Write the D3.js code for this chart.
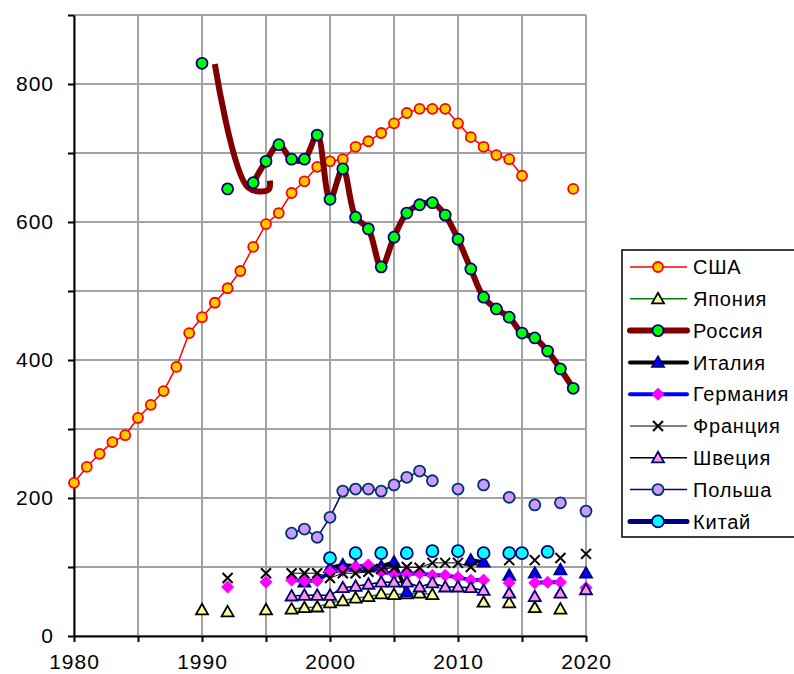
<!DOCTYPE html>
<html>
<head>
<meta charset="utf-8">
<script src="https://cdnjs.cloudflare.com/ajax/libs/d3/7.8.5/d3.min.js"></script>
<style>
body { margin: 0; background: #fff; }
text { font-family: 'Liberation Sans', Arial, sans-serif; }
</style>
</head>
<body>
<div id="chart"></div>
<script>
// data
var usaYears = [1980, 1981, 1982, 1983, 1984, 1985, 1986, 1987, 1988, 1989, 1990, 1991, 1992, 1993, 1994, 1995, 1996, 1997, 1998, 1999,
    2000, 2001, 2002, 2003, 2004, 2005, 2006, 2007, 2008, 2009, 2010, 2011, 2012, 2013, 2014, 2015, 2019];
var usaValues = [222, 245, 264, 281, 291, 316, 335, 355, 390, 439, 462, 483, 504, 529, 564, 597, 613, 642, 659, 680,
    688, 691, 709, 717, 729, 743, 758, 764, 764, 764, 743, 723, 709, 697, 691, 667, 648];

var japanYears = [1990, 1992, 1995, 1997, 1998, 1999, 2000, 2001, 2002, 2003, 2004, 2005, 2006, 2007, 2008, 2012, 2014, 2016, 2018];
var japanValues = [38, 35, 38, 39, 41, 42, 48, 51, 55, 57, 61, 60, 61, 62, 60, 49, 48, 41, 39];

var russiaYears = [1990, 1992, 1994, 1995, 1996, 1997, 1998, 1999, 2000, 2001, 2002, 2003, 2004, 2005, 2006, 2007, 2008, 2009,
    2010, 2011, 2012, 2013, 2014, 2015, 2016, 2017, 2018, 2019];
var russiaValues = [830, 648, 657, 688, 712, 691, 691, 726, 633, 677, 607, 590, 535, 578, 613, 625, 628, 610,
    575, 532, 491, 474, 462, 439, 432, 413, 387, 359];
// early smoothed piece without markers
var russiaEarlyYears = [1991, 1993.6, 1995.2, 1995.3];
var russiaEarlyValues = [829, 650, 647, 660];

var italyYears = [1998, 2000, 2001, 2002, 2003, 2004, 2005, 2006, 2011, 2012, 2014, 2016, 2018, 2020];
var italyValues = [78, 99, 103, 101, 100, 101, 107, 64, 110, 107, 88, 91, 96, 91];

var germanyYears = [1992, 1995, 1997, 1998, 1999, 2000, 2001, 2002, 2003, 2004, 2005, 2006, 2007, 2008, 2009, 2010, 2011, 2012,
    2014, 2016, 2017, 2018, 2020];
var germanyValues = [71, 78, 81, 80, 80, 93, 95, 100, 103, 93, 90, 90, 91, 88, 88, 85, 81, 81,
    77, 77, 78, 78, 70];

var franceYears = [1992, 1995, 1997, 1998, 1999, 2000, 2001, 2002, 2003, 2004, 2005, 2006, 2007, 2008, 2009, 2010, 2011,
    2014, 2016, 2018, 2020];
var franceValues = [84, 91, 91, 91, 91, 84, 91, 91, 93, 97, 99, 100, 99, 106, 106, 106, 100,
    110, 110, 113, 119];

var swedenYears = [1997, 1998, 1999, 2000, 2001, 2002, 2003, 2004, 2005, 2006, 2007, 2008, 2009, 2010, 2011, 2012,
    2014, 2016, 2018, 2020];
var swedenValues = [58, 59, 59, 59, 70, 72, 75, 78, 78, 78, 71, 77, 71, 71, 70, 66,
    62, 57, 62, 67];

var polandYears = [1997, 1998, 1999, 2000, 2001, 2002, 2003, 2004, 2005, 2006, 2007, 2008, 2010, 2012, 2014, 2016, 2018, 2020];
var polandValues = [149, 155, 143, 172, 210, 213, 213, 210, 219, 230, 239, 225, 213, 219, 201, 190, 193, 181];

var chinaYears = [2000, 2002, 2004, 2006, 2008, 2010, 2012, 2014, 2015, 2017];
var chinaValues = [113, 120, 120, 120, 123, 123, 120, 120, 120, 122];

var xTicks = [1980, 1985, 1990, 1995, 2000, 2005, 2010, 2015, 2020];
var yTicks = [0, 100, 200, 300, 400, 500, 600, 700, 800, 900];

var margin = {
        top: 15,
        right: 208,
        bottom: 38,
        left: 74
    },
    width = 794 - margin.left - margin.right,
    height = 674 - margin.top - margin.bottom;

var series = [
    {name: 'США', years: usaYears, values: usaValues, line: '#FF0000', lw: 1.5, marker: 'circle', fill: '#FFCC00', stroke: '#FF0000', r: 5},
    {name: 'Япония', years: japanYears, values: japanValues, line: '#008000', lw: 1.5, marker: 'triangle', fill: '#FFFF99', stroke: '#000000', r: 6},
    {name: 'Россия', years: russiaYears, values: russiaValues, line: '#800000', lw: 6, marker: 'circle', fill: '#00FF00', stroke: '#000080', r: 5.5, smooth: true,
        extraYears: russiaEarlyYears, extraValues: russiaEarlyValues, skipLine: [1990, 1992]},
    {name: 'Италия', years: italyYears, values: italyValues, line: '#000000', lw: 4, marker: 'triangle', fill: '#0000FF', stroke: '#000080', r: 6},
    {name: 'Германия', years: germanyYears, values: germanyValues, line: '#0000FF', lw: 4, marker: 'diamond', fill: '#FF00FF', stroke: '#FF00FF', r: 6},
    {name: 'Франция', years: franceYears, values: franceValues, line: '#000000', lw: 1, marker: 'x', fill: 'none', stroke: '#000000', r: 5},
    {name: 'Швеция', years: swedenYears, values: swedenValues, line: '#000000', lw: 1.5, marker: 'triangle', fill: '#FF99CC', stroke: '#000080', r: 6},
    {name: 'Польша', years: polandYears, values: polandValues, line: '#000080', lw: 1.5, marker: 'circle', fill: '#CC99FF', stroke: '#003366', r: 5.5},
    {name: 'Китай', years: chinaYears, values: chinaValues, line: '#000080', lw: 5, marker: 'circle', fill: '#00FFFF', stroke: '#000080', r: 6}
];

var svg = d3.select('#chart')
    .append('svg')
    .attr('width', width + margin.left + margin.right)
    .attr('height', height + margin.top + margin.bottom);
var canvas = svg.append('g')
    .attr('transform', 'translate(' + margin.left + ',' + margin.top + ')');

var x = d3.scaleLinear().domain([1980, 2020]).range([0, width]);
var y = d3.scaleLinear().domain([0, 900]).range([height, 0]);

// grid
canvas.append('g').selectAll('line')
    .data(yTicks)
    .enter()
    .append('line')
    .attr('x1', 0)
    .attr('x2', width)
    .attr('y1', function (d) { return y(d); })
    .attr('y2', function (d) { return y(d); })
    .attr('stroke', '#a3a3a3')
    .attr('stroke-width', 2);
canvas.append('g').selectAll('line')
    .data(xTicks)
    .enter()
    .append('line')
    .attr('x1', function (d) { return x(d); })
    .attr('x2', function (d) { return x(d); })
    .attr('y1', 0)
    .attr('y2', height)
    .attr('stroke', '#a3a3a3')
    .attr('stroke-width', 2);

// axes
var yAxis = canvas.append('g')
    .call(d3.axisLeft(y).tickValues(yTicks).tickSize(6).tickSizeOuter(0).tickPadding(14)
        .tickFormat(function (d) { return d % 200 === 0 && d < 900 ? d : ''; }));
var xAxis = canvas.append('g')
    .attr('transform', 'translate(0,' + height + ')')
    .call(d3.axisBottom(x).tickValues(xTicks).tickSize(6).tickSizeOuter(0).tickPadding(12)
        .tickFormat(function (d) { return d % 10 === 0 ? d : ''; }));
[yAxis, xAxis].forEach(function (a) {
    a.selectAll('path, line').attr('stroke', '#000').attr('stroke-width', 2);
    a.selectAll('text').attr('font-size', 21).attr('fill', '#000')
        .style('letter-spacing', '1px')
        .style('font-family', "'Liberation Sans', Arial, sans-serif");
});

// split into line pieces where a year is missing
function points(yrs, vals, skip, joined) {
    var pts = [];
    yrs.forEach(function (yr, i) {
        if (skip && skip.indexOf(yr) >= 0) return;
        if (!joined && pts.length && pts[pts.length - 1] && yr - pts[pts.length - 1][0] > 1) pts.push(null);
        pts.push([yr, vals[i]]);
    });
    return pts;
}

function drawMarker(g, s, cx, cy) {
    if (s.marker === 'circle') {
        g.append('circle').attr('cx', cx).attr('cy', cy).attr('r', s.r)
            .attr('fill', s.fill).attr('stroke', s.stroke).attr('stroke-width', 1.8);
    } else if (s.marker === 'triangle') {
        var r = s.r;
        g.append('path')
            .attr('d', 'M' + cx + ',' + (cy - r) + 'L' + (cx + r) + ',' + (cy + r * 0.75) + 'L' + (cx - r) + ',' + (cy + r * 0.75) + 'Z')
            .attr('fill', s.fill).attr('stroke', s.stroke).attr('stroke-width', 1.8);
    } else if (s.marker === 'diamond') {
        var d = s.r;
        g.append('path')
            .attr('d', 'M' + cx + ',' + (cy - d) + 'L' + (cx + d) + ',' + cy + 'L' + cx + ',' + (cy + d) + 'L' + (cx - d) + ',' + cy + 'Z')
            .attr('fill', s.fill).attr('stroke', s.stroke).attr('stroke-width', 1);
    } else if (s.marker === 'x') {
        var k = s.r;
        g.append('path')
            .attr('d', 'M' + (cx - k) + ',' + (cy - k) + 'L' + (cx + k) + ',' + (cy + k) + 'M' + (cx + k) + ',' + (cy - k) + 'L' + (cx - k) + ',' + (cy + k))
            .attr('fill', 'none').attr('stroke', s.stroke).attr('stroke-width', 2);
    }
}

series.forEach(function (s) {
    var g = canvas.append('g');
    var line = d3.line()
        .defined(function (d) { return d !== null; })
        .x(function (d) { return x(d[0]); })
        .y(function (d) { return y(d[1]); })
        .curve(s.smooth ? d3.curveCatmullRom : d3.curveLinear);
    g.append('path')
        .attr('d', line(points(s.years, s.values, s.skipLine)))
        .attr('fill', 'none')
        .attr('stroke', s.line)
        .attr('stroke-width', s.lw)
        .attr('stroke-linejoin', 'round');
    if (s.extraYears) {
        g.append('path')
            .attr('d', line(points(s.extraYears, s.extraValues, null, true)))
            .attr('fill', 'none')
            .attr('stroke', s.line)
            .attr('stroke-width', s.lw)
            .attr('stroke-linejoin', 'round');
    }
    s.years.forEach(function (yr, i) {
        drawMarker(g, s, x(yr), y(s.values[i]));
    });
});

// legend
var legend = svg.append('g').attr('transform', 'translate(622,250)');
legend.append('rect')
    .attr('x', 0).attr('y', 0)
    .attr('width', 200).attr('height', 287)
    .attr('fill', '#fff').attr('stroke', '#000').attr('stroke-width', 1.5);
series.forEach(function (s, i) {
    var ly = 17 + i * 31.8;
    var row = legend.append('g');
    row.append('line')
        .attr('x1', 8).attr('x2', 65)
        .attr('y1', ly).attr('y2', ly)
        .attr('stroke', s.line)
        .attr('stroke-width', s.lw)
        .attr('stroke-linecap', s.lw > 2 ? 'round' : 'butt');
    drawMarker(row, s, 36, ly);
    row.append('text')
        .attr('x', 71).attr('y', ly)
        .attr('dy', '0.36em')
        .attr('font-size', 20)
        .attr('fill', '#000')
        .style('letter-spacing', '0.8px')
        .text(s.name);
});
</script>
</body>
</html>
